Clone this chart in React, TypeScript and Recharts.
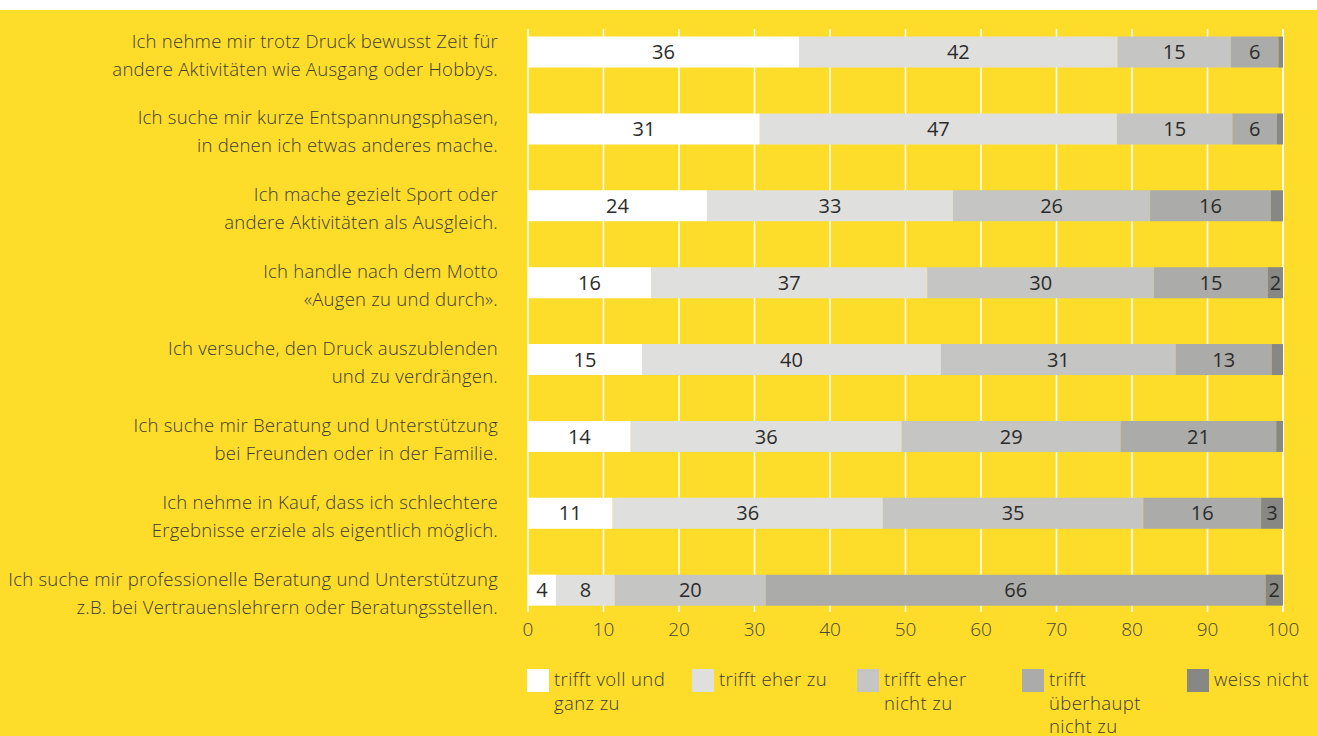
import { BarChart, Bar, XAxis, YAxis, CartesianGrid, LabelList } from 'recharts';

// Antworten in Prozent
const categories: string[][] = [
  ['Ich nehme mir trotz Druck bewusst Zeit für', 'andere Aktivitäten wie Ausgang oder Hobbys.'],
  ['Ich suche mir kurze Entspannungsphasen,', 'in denen ich etwas anderes mache.'],
  ['Ich mache gezielt Sport oder', 'andere Aktivitäten als Ausgleich.'],
  ['Ich handle nach dem Motto', '«Augen zu und durch».'],
  ['Ich versuche, den Druck auszublenden', 'und zu verdrängen.'],
  ['Ich suche mir Beratung und Unterstützung', 'bei Freunden oder in der Familie.'],
  ['Ich nehme in Kauf, dass ich schlechtere', 'Ergebnisse erziele als eigentlich möglich.'],
  ['Ich suche mir professionelle Beratung und Unterstützung', 'z.B. bei Vertrauenslehrern oder Beratungsstellen.'],
];

const vollUndGanz = [35.9, 30.7, 23.7, 16.3, 15.1, 13.6, 11.2, 3.7];
const eherZu = [42.2, 47.3, 32.6, 36.6, 39.6, 35.9, 35.8, 7.8];
const eherNicht = [15.0, 15.3, 26.1, 30.0, 31.1, 29.0, 34.5, 20.0];
const ueberhauptNicht = [6.3, 5.9, 16.0, 15.1, 12.7, 20.6, 15.6, 66.2];
const weissNicht = [0.6, 0.8, 1.6, 2.0, 1.5, 0.9, 2.9, 2.3];

const xTicks = [0, 10, 20, 30, 40, 50, 60, 70, 80, 90, 100];

const series = [
  { key: 'voll', color: '#ffffff', label: ['trifft voll und', 'ganz zu'] },
  { key: 'eher', color: '#dfdfdd', label: ['trifft eher zu'] },
  { key: 'eherNicht', color: '#c5c5c3', label: ['trifft eher', 'nicht zu'] },
  { key: 'ueberhaupt', color: '#ababa9', label: ['trifft', 'überhaupt', 'nicht zu'] },
  { key: 'weiss', color: '#878884', label: ['weiss nicht'] },
];

const data = categories.map((lines, i) => ({
  name: lines.join('\n'),
  voll: vollUndGanz[i],
  eher: eherZu[i],
  eherNicht: eherNicht[i],
  ueberhaupt: ueberhauptNicht[i],
  weiss: weissNicht[i],
}));

const FONT = "'Open Sans', 'Noto Sans', sans-serif";
const YELLOW = '#fedc2a';
const TEXT = '#3d3c36';

const CategoryTick = (props: any) => {
  const { x, y, payload } = props;
  const lines = String(payload.value).split('\n');
  return (
    <text
      x={x}
      y={y}
      textAnchor="end"
      fill={TEXT}
      fontSize={18.5}
      fontWeight={300}
      fontFamily={FONT}
      letterSpacing={0.25}
    >
      {lines.map((l, i) => (
        <tspan key={i} x={x} y={y - 12 + i * 28} dominantBaseline="central">
          {l}
        </tspan>
      ))}
    </text>
  );
};

const fmtLabel = (v: any) => (Number(v) >= 1.9 ? Math.round(Number(v)) : '');

export default function App() {
  return (
    <div
      style={{
        position: 'absolute',
        left: 0,
        top: 0,
        width: 1317,
        height: 736,
        background: '#fff',
        overflow: 'hidden',
      }}
    >
      <div style={{ position: 'absolute', left: 0, top: 10, width: 1317, height: 726, background: YELLOW }}>
        <BarChart
          width={1317}
          height={640}
          data={data}
          layout="vertical"
          margin={{ top: 19, right: 34, bottom: 0, left: 0 }}
        >
          <CartesianGrid horizontal={false} stroke="#ffffff" strokeWidth={1.5} />
          <XAxis
            type="number"
            domain={[0, 100]}
            ticks={xTicks}
            axisLine={false}
            tickLine={false}
            tickSize={0}
            tickMargin={11}
            height={38}
            interval={0}
            tick={{ fill: '#48463a', fontSize: 19, fontWeight: 300, fontFamily: FONT }}
          />
          <YAxis
            type="category"
            dataKey="name"
            width={528}
            axisLine={false}
            tickLine={false}
            tickSize={0}
            tickMargin={30}
            interval={0}
            padding={{ top: -15.4, bottom: -16.5 }}
            tick={<CategoryTick />}
          />
          {series.map((s) => (
            <Bar
              key={s.key}
              dataKey={s.key}
              stackId="a"
              fill={s.color}
              barSize={31}
              isAnimationActive={false}
            >
              <LabelList
                dataKey={s.key}
                position="center"
                formatter={fmtLabel}
                fill="#2b2b2b"
                fontSize={20}
                fontFamily={FONT}
                fontWeight={400}
              />
            </Bar>
          ))}
        </BarChart>
        <div
          style={{
            position: 'absolute',
            left: 527,
            top: 657,
            display: 'flex',
            fontFamily: FONT,
            fontWeight: 300,
            fontSize: 18.5,
            letterSpacing: 0.4,
            lineHeight: '23.5px',
            color: TEXT,
          }}
        >
          {series.map((s) => (
            <div key={s.key} style={{ display: 'flex', width: 165 }}>
              <div style={{ width: 22, height: 23, marginTop: 2, background: s.color, flex: 'none' }} />
              <div style={{ marginLeft: 5 }}>
                {s.label.map((l, i) => (
                  <div key={i}>{l}</div>
                ))}
              </div>
            </div>
          ))}
        </div>
      </div>
    </div>
  );
}
